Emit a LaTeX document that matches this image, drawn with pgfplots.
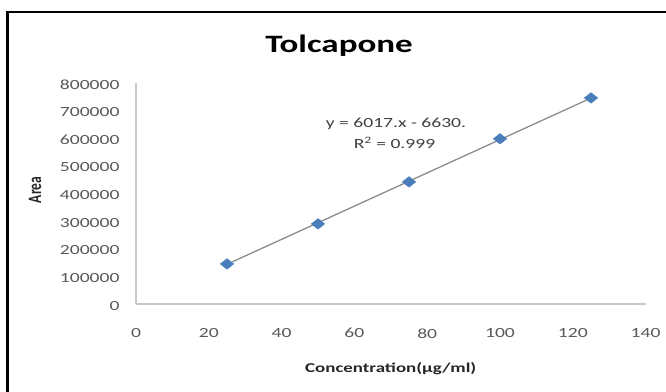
\documentclass[border=0pt]{standalone}
\usepackage{fontspec}
\usepackage{graphicx}
\usepackage{pgfplots}
\pgfplotsset{compat=1.18}
\setmainfont{Carlito}[FakeStretch=1.4]
\newfontfamily\plainfont{Carlito}
\definecolor{excelblue}{HTML}{4A7EBB}
\definecolor{ticktext}{HTML}{595959}
\definecolor{axisgray}{HTML}{C8C8C8}
\definecolor{trendgray}{HTML}{8C8C8C}
\begin{document}
\begin{tikzpicture}[x=1bp,y=1bp]
\useasboundingbox (0,0) rectangle (666,391);
\draw[line width=2.5bp,black] (7.5,-5) -- (7.5,379) -- (680,379);
\node[font=\fontsize{25bp}{28bp}\selectfont\bfseries] at (339,345) {Tolcapone};
\begin{axis}[
  at={(136bp,87bp)}, anchor=south west,
  scale only axis, width=509.6bp, height=221bp,
  xmin=0, xmax=140, ymin=0, ymax=800000,
  xtick={0,20,...,140},
  ytick={0,100000,...,800000},
  scaled y ticks=false,
  axis x line*=bottom, axis y line*=left,
  axis line style={-, draw=axisgray, line width=1.2bp},
  major tick length=0pt,
  /pgf/number format/assume math mode=true,
  /pgf/number format/fixed,
  /pgf/number format/1000 sep={},
  tick label style={font=\fontsize{14bp}{16bp}\selectfont, text=ticktext},
  xticklabel style={yshift=-21bp},
  yticklabel style={xshift=-13bp, yshift=-1.5bp},
  xlabel={Concentration(µg/ml)},
  xlabel style={font=\fontsize{13.5bp}{16bp}\selectfont\bfseries, at={(axis description cs:0.5,0)}, anchor=center, yshift=-65bp, text=black!85},
  clip=false,
]
\addplot[trendgray, line width=1.3bp] coordinates {(25,143795) (125,745495)};
\addplot[only marks, mark=diamond*, mark size=5.3bp, mark options={xscale=1.7, fill=excelblue, draw=excelblue}] coordinates {
(25,145000) (50,290000) (75,442000) (100,598000) (125,746000)};
\end{axis}
\node[rotate=90, text=black!85] at (35,201) {\scalebox{1}[1.4]{\plainfont\fontsize{13.5bp}{16bp}\selectfont\bfseries Area}};
\node[font=\fontsize{14bp}{16bp}\selectfont, text=black!75] at (396,267) {y = 6017.x - 6630.};
\node[font=\fontsize{14bp}{16bp}\selectfont, text=black!75] at (394.5,248) {R\textsuperscript{2} = 0.999};
\end{tikzpicture}
\end{document}
